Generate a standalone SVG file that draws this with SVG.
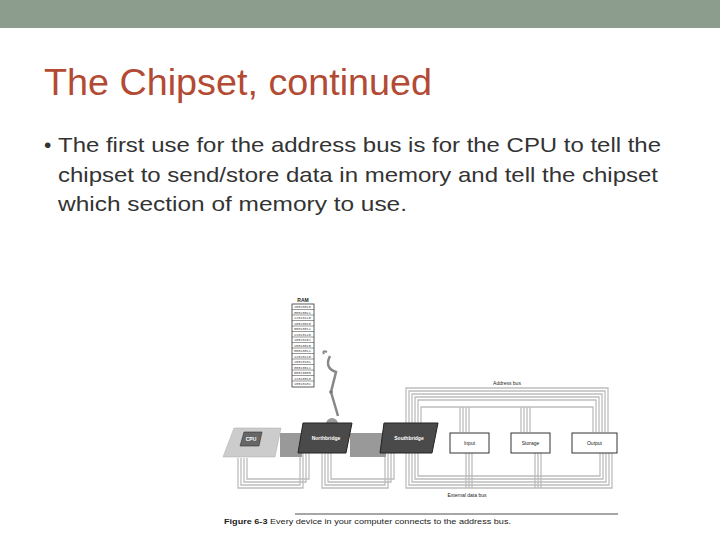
<svg xmlns="http://www.w3.org/2000/svg" width="720" height="540" viewBox="0 0 720 540">
<style>
.b{font-family:"Liberation Sans",Arial,sans-serif;font-size:21px;fill:#333}
.s{font-family:"Liberation Sans",Arial,sans-serif;font-size:5px;fill:#222}
.w{font-family:"Liberation Sans",Arial,sans-serif;font-size:5px;fill:#fff;font-weight:bold}
.bus{fill:none;stroke:#bdbdbd;stroke-width:1.3}
.box{fill:#fff;stroke:#333;stroke-width:1}
</style>
<rect width="720" height="540" fill="#fff"/>
<rect width="720" height="28" fill="#8c9c8d"/>
<text x="44" y="95" font-family="Liberation Sans,Arial,sans-serif" font-size="36" fill="#b34a33" textLength="388" lengthAdjust="spacingAndGlyphs">The Chipset, continued</text>
<text class="b" x="44" y="152" font-size="14">•</text>
<text class="b" x="58" y="152" textLength="603" lengthAdjust="spacingAndGlyphs">The first use for the address bus is for the CPU to tell the</text>
<text class="b" x="58" y="182" textLength="600" lengthAdjust="spacingAndGlyphs">chipset to send/store data in memory and tell the chipset</text>
<text class="b" x="58" y="211" textLength="349" lengthAdjust="spacingAndGlyphs">which section of memory  to use.</text>

<g id="connectors">
 <path class="bus" d="M406 432V388H608V432M409 432V391H605V432M412 432V394H602V432M415 432V397H599V432M418 432V400H596V432"/>
 <path class="bus" d="M421 432V407H593V432"/>
 <path class="bus" d="M460 407V432M463 407V432M466 407V432M469 407V432M521 407V432M524 407V432M527 407V432M530 407V432"/>
 <path class="bus" d="M238 458V488H303V453M241 458V485H300V453M244 458V482H306V453M247 458V479H309V453"/>
 <path class="bus" d="M322 453V488H388V453M325 453V485H385V453M328 453V482H391V453M331 453V479H394V453"/>
 <path class="bus" d="M406 453V488H612V453M409 453V485H609V453M412 453V482H606V453M415 453V479H603V453M418 453V476H600V453M466 453V488M469 453V488M472 453V488M535 453V488M538 453V488M541 453V488"/>
</g>

<g id="ram">
 <text x="303" y="302" text-anchor="middle" font-family="Liberation Sans,Arial,sans-serif" font-size="5" font-weight="bold" fill="#222">RAM</text>
 <rect x="292" y="304" width="22" height="83" fill="#fff" stroke="#333" stroke-width="0.8"/>
 <g stroke="#333" stroke-width="0.5">
  <path d="M292 309.5H314M292 315H314M292 320.5H314M292 326H314M292 331.5H314M292 337H314M292 342.5H314M292 348H314M292 353.5H314M292 359H314M292 364.5H314M292 370H314M292 375.5H314M292 381H314"/>
 </g>
 <g font-family="Liberation Mono,monospace" font-size="3.5" fill="#444">
  <text x="294" y="308">10010010</text><text x="294" y="313.5">00010011</text><text x="294" y="319">11010110</text><text x="294" y="324.5">10010010</text><text x="294" y="330">00010011</text><text x="294" y="335.5">11010110</text><text x="294" y="341">10010101</text><text x="294" y="346.5">10010010</text><text x="294" y="352">00010011</text><text x="294" y="357.5">11010110</text><text x="294" y="363">10010101</text><text x="294" y="368.5">00010011</text><text x="294" y="374">00010000</text><text x="294" y="379.5">11010010</text><text x="294" y="385">10010101</text>
 </g>
</g>

<g id="arm">
 <path d="M330 356Q324 368 336 372L331 392L338 416" fill="none" stroke="#888" stroke-width="2.5"/>
 <path d="M324 354Q322 350 327 352" fill="none" stroke="#888" stroke-width="2"/>
 <circle cx="331" cy="392" r="1.8" fill="#777"/>
 <path d="M326 424A6 6 0 0 1 338 424Z" fill="#999"/>
</g>

<g id="bands">
 <polygon points="280,433 302,433 302,457 280,457" fill="#999"/>
 <polygon points="350,433 386,433 386,457 350,457" fill="#999"/>
</g>

<g id="cpu">
 <polygon points="234,428 281,428 275,457 223,457" fill="#ccc" stroke="#aaa" stroke-width="0.5"/>
 <polygon points="244,432 262,432 259,446 240,446" fill="#666" stroke="#333" stroke-width="0.6"/>
 <text class="w" x="251" y="441" text-anchor="middle">CPU</text>
</g>
<g id="northbridge">
 <polygon points="303,423 352,423 346,453 298,453" fill="#4a4a4a" stroke="#222"/>
 <text class="w" x="326" y="440" text-anchor="middle">Northbridge</text>
</g>
<g id="southbridge">
 <polygon points="384,423 438,423 432,453 380,453" fill="#4a4a4a" stroke="#222"/>
 <text class="w" x="409" y="440" text-anchor="middle">Southbridge</text>
</g>
<g id="input"><rect class="box" x="450" y="433" width="39" height="20"/><text class="s" x="469.5" y="445" text-anchor="middle">Input</text></g>
<g id="storage"><rect class="box" x="511" y="433" width="39" height="20"/><text class="s" x="530.5" y="445" text-anchor="middle">Storage</text></g>
<g id="output"><rect class="box" x="572" y="433" width="45" height="20"/><text class="s" x="594.5" y="445" text-anchor="middle">Output</text></g>

<text class="s" x="507" y="385" text-anchor="middle">Address bus</text>
<text class="s" x="467" y="497" text-anchor="middle">External data bus</text>
<line x1="295" y1="514" x2="618" y2="514" stroke="#222" stroke-width="0.8"/>
<text x="224" y="524" font-family="Liberation Sans,Arial,sans-serif" font-size="8" fill="#222" textLength="287" lengthAdjust="spacingAndGlyphs"><tspan font-weight="bold">Figure 6-3</tspan>   Every device in your computer connects to the address bus.</text>
</svg>
